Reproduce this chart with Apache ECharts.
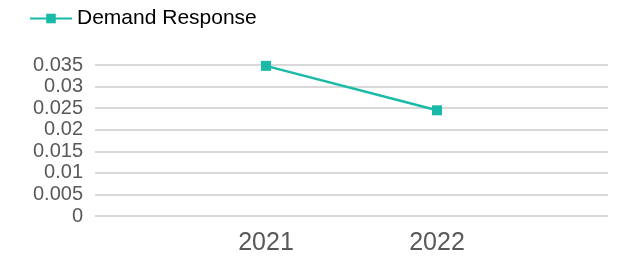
<!DOCTYPE html>
<html lang="en">
<head>
    <meta charset="UTF-8">
    <title>Demand Response</title>
    <script src="https://cdn.jsdelivr.net/npm/echarts@6/dist/echarts.min.js"></script>
    <style>
        html, body { margin: 0; padding: 0; background: #fff; }
        #chart1 { width: 617px; height: 260px; }
    </style>
</head>
<body>
<div id="chart1"></div>
<script>
    // categories padded with blanks so the two years sit at 1/3 and 2/3 of the width
    var years = ['', '2021', '2022', ''];
    var demandResponse = [null, 0.0348, 0.0245, null];
    var yTicks = [0, 0.005, 0.01, 0.015, 0.02, 0.025, 0.03, 0.035];

    var myChart1 = echarts.init(document.getElementById('chart1'));
    myChart1.setOption({
        animation: false,
        textStyle: { fontFamily: 'Liberation Sans, Arial, sans-serif' },
        legend: {
            left: 24,
            top: 3,
            itemWidth: 42,
            itemHeight: 12,
            itemGap: 10,
            textStyle: { fontSize: 21, color: '#000' },
            data: ['Demand Response']
        },
        grid: { left: 95, right: 9, top: 65, bottom: 44, containLabel: false },
        xAxis: {
            type: 'category',
            boundaryGap: false,
            data: years,
            axisLine: { show: false },
            axisTick: { show: false },
            axisLabel: { fontSize: 25, color: '#595959', margin: 15 }
        },
        yAxis: {
            type: 'value',
            min: yTicks[0],
            max: yTicks[yTicks.length - 1],
            interval: 0.005,
            axisLine: { show: false },
            axisTick: { show: false },
            axisLabel: { fontSize: 20, color: '#595959', margin: 12 },
            splitLine: { lineStyle: { color: '#d9d9d9', width: 2 } }
        },
        series: [{
            name: 'Demand Response',
            type: 'line',
            data: demandResponse,
            symbol: 'rect',
            symbolSize: 10,
            itemStyle: { color: '#19bba8' },
            lineStyle: { color: '#19bba8', width: 2.5 }
        }]
    });
</script>
</body>
</html>
